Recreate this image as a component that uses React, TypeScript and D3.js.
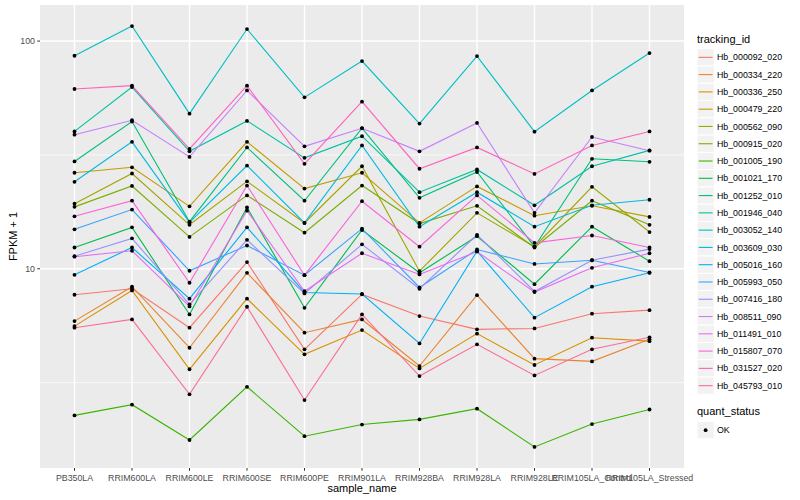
import * as d3 from "d3";

const samples = [
  "PB350LA", "RRIM600LA", "RRIM600LE", "RRIM600SE", "RRIM600PE", "RRIM901LA",
  "RRIM928BA", "RRIM928LA", "RRIM928LE", "RRIM105LA_Control", "RRIM105LA_Stressed",
];

const trackingIds = [
  "Hb_000092_020", "Hb_000334_220", "Hb_000336_250", "Hb_000479_220", "Hb_000562_090",
  "Hb_000915_020", "Hb_001005_190", "Hb_001021_170", "Hb_001252_010", "Hb_001946_040",
  "Hb_003052_140", "Hb_003609_030", "Hb_005016_160", "Hb_005993_050", "Hb_007416_180",
  "Hb_008511_090", "Hb_011491_010", "Hb_015807_070", "Hb_031527_020", "Hb_045793_010",
];

// FPKM + 1 per sample
const hb000092 = [7.69, 8.17, 5.51, 10.7, 4.43, 7.72, 6.2, 5.42, 5.47, 6.35, 6.58];
const hb000334 = [5.89, 8.34, 4.5, 9.6, 5.24, 5.99, 3.74, 7.66, 4.03, 3.92, 4.9];
const hb000336 = [5.6, 8.03, 3.62, 7.39, 4.21, 5.38, 3.65, 5.19, 3.78, 4.98, 4.81];
const hb000479 = [26.4, 27.9, 18.8, 36.1, 22.5, 26.4, 15.9, 23.0, 17.1, 18.9, 16.9];
const hb000562 = [19.3, 26.2, 15.6, 24.2, 15.9, 28.2, 9.76, 17.6, 12.5, 22.9, 14.5];
const hb000915 = [18.7, 23.1, 13.8, 21.0, 14.4, 23.2, 15.8, 18.9, 12.4, 19.9, 15.6];
const hb001005 = [2.27, 2.53, 1.77, 3.03, 1.84, 2.07, 2.18, 2.43, 1.65, 2.08, 2.41];
const hb001021 = [12.4, 15.2, 6.3, 18.6, 6.74, 14.8, 9.6, 13.9, 8.56, 15.3, 10.8];
const hb001252 = [29.6, 44.3, 16.1, 34.1, 19.9, 41.5, 20.5, 26.6, 12.5, 30.4, 29.5];
const hb001946 = [40.1, 62.8, 32.8, 44.6, 30.7, 38.2, 21.7, 27.3, 19.0, 28.2, 33.1];
const hb003052 = [86.2, 116.4, 48.0, 112.9, 56.6, 81.7, 43.4, 85.9, 40.0, 60.7, 88.6];
const hb003609 = [24.1, 36.1, 16.0, 28.4, 15.9, 34.8, 15.3, 21.7, 15.3, 19.0, 20.1];
const hb005016 = [9.41, 12.4, 7.39, 15.2, 7.87, 7.75, 4.7, 11.95, 6.1, 8.34, 9.6];
const hb005993 = [14.9, 18.2, 9.8, 12.65, 9.37, 15.0, 8.28, 12.15, 10.5, 10.9, 9.63];
const hb007416 = [11.36, 13.6, 6.97, 13.4, 7.79, 12.8, 8.17, 14.1, 7.95, 10.9, 12.2];
const hb008511 = [38.8, 44.9, 31.0, 60.7, 34.5, 41.4, 32.8, 43.7, 17.6, 37.9, 33.0];
const hb011491 = [11.3, 12.0, 6.83, 18.0, 7.97, 11.7, 9.44, 11.9, 7.9, 10.1, 11.7];
const hb015807 = [17.0, 19.9, 8.68, 23.2, 9.37, 19.8, 12.5, 21.0, 13.0, 14.0, 12.4];
const hb031527 = [61.6, 63.7, 33.6, 63.7, 28.9, 54.2, 27.5, 34.1, 26.1, 34.8, 40.1];
const hb045793 = [5.51, 5.99, 2.81, 6.81, 2.65, 6.3, 3.38, 4.66, 3.4, 4.43, 5.0];

const seriesValues = [
  hb000092, hb000334, hb000336, hb000479, hb000562, hb000915, hb001005, hb001021, hb001252, hb001946,
  hb003052, hb003609, hb005016, hb005993, hb007416, hb008511, hb011491, hb015807, hb031527, hb045793,
];

const yBreaks = [10, 100];
const statusLevels = ["OK"];

// ggplot2 hue palette, 20 levels
const colors = [
  "#F8766D", "#EA8331", "#D89000", "#C09B00", "#A3A500", "#7CAE00", "#39B600", "#00BB4E",
  "#00BF7D", "#00C1A3", "#00BFC4", "#00BAE0", "#00B0F6", "#35A2FF", "#9590FF", "#C77CFF",
  "#E76BF3", "#FA62DB", "#FF62BC", "#FF6C91",
];

const font = "'Liberation Sans', Arial, Helvetica, sans-serif";

const App = () => {
  const width = 800;
  const height = 500;
  const panel = { left: 40, right: 684, top: 5, bottom: 468 };

  const all = seriesValues.flat();
  const [lo, hi] = d3.extent(all) as [number, number];
  const lLo = Math.log10(lo);
  const lHi = Math.log10(hi);
  const pad = (lHi - lLo) * 0.05;

  const x = d3.scalePoint<string>()
    .domain(samples)
    .range([panel.left, panel.right])
    .padding(0.6);

  const y = d3.scaleLog()
    .domain([10 ** (lLo - pad), 10 ** (lHi + pad)])
    .range([panel.bottom, panel.top]);

  const [dMin, dMax] = y.domain();
  const majors = [1, 10, 100, 1000];
  const minorBreaks = d3.pairs(majors)
    .map(([a, b]) => Math.sqrt(a * b))
    .filter(v => v >= dMin && v <= dMax);

  const line = d3.line<number>()
    .x((_, i) => x(samples[i]) as number)
    .y(d => y(d));

  const keyH = 17.28;
  const legX = 697;
  const legTop = 48.7;

  return (
    <svg width={width} height={height}
      style={{ position: "absolute", left: 0, top: 0, background: "#fff" }}
      fontFamily={font}>
      <rect x={panel.left} y={panel.top} width={panel.right - panel.left}
        height={panel.bottom - panel.top} fill="#EBEBEB" />

      {/* grid */}
      {minorBreaks.map(v => (
        <line key={"mn" + v} x1={panel.left} x2={panel.right} y1={y(v)} y2={y(v)}
          stroke="#fff" strokeWidth={0.7} />
      ))}
      {yBreaks.map(v => (
        <line key={"mj" + v} x1={panel.left} x2={panel.right} y1={y(v)} y2={y(v)}
          stroke="#fff" strokeWidth={1.4} />
      ))}
      {samples.map(s => (
        <line key={"vx" + s} x1={x(s)} x2={x(s)} y1={panel.top} y2={panel.bottom}
          stroke="#fff" strokeWidth={1.4} />
      ))}

      {/* lines */}
      {seriesValues.map((vals, i) => (
        <path key={trackingIds[i]} d={line(vals) ?? ""} fill="none"
          stroke={colors[i]} strokeWidth={1.1} />
      ))}
      {/* points */}
      {seriesValues.map((vals, i) =>
        vals.map((v, j) => (
          <circle key={trackingIds[i] + j} cx={x(samples[j])} cy={y(v)} r={1.9} fill="#000" />
        ))
      )}

      {/* y axis */}
      {yBreaks.map(v => (
        <g key={"yt" + v}>
          <line x1={panel.left - 2.75} x2={panel.left} y1={y(v)} y2={y(v)} stroke="#333" strokeWidth={1} />
          <text x={panel.left - 5} y={y(v) + 3.1} textAnchor="end" fontSize={8.8} fill="#4D4D4D">
            {d3.format("d")(v)}
          </text>
        </g>
      ))}
      {/* x axis */}
      {samples.map(s => (
        <g key={"xt" + s}>
          <line x1={x(s)} x2={x(s)} y1={panel.bottom} y2={panel.bottom + 2.75} stroke="#333" strokeWidth={1} />
          <text x={x(s)} y={panel.bottom + 12.8} textAnchor="middle" fontSize={8.8} fill="#4D4D4D">
            {s}
          </text>
        </g>
      ))}

      <text x={(panel.left + panel.right) / 2} y={492} textAnchor="middle" fontSize={11} fill="#000">
        sample_name
      </text>
      <text transform={`translate(16.5, ${(panel.top + panel.bottom) / 2}) rotate(-90)`}
        textAnchor="middle" fontSize={11} fill="#000">
        FPKM + 1
      </text>

      {/* legend: tracking_id */}
      <text x={legX} y={43} fontSize={11} fill="#000">tracking_id</text>
      {trackingIds.map((id, i) => {
        const ky = legTop + i * keyH;
        return (
          <g key={"lg" + id}>
            <rect x={legX} y={ky} width={keyH} height={keyH} fill="#F2F2F2" stroke="#fff" strokeWidth={1} />
            <line x1={legX + 1.7} x2={legX + keyH - 1.7} y1={ky + keyH / 2} y2={ky + keyH / 2}
              stroke={colors[i]} strokeWidth={1.1} />
            <text x={legX + keyH + 2.7} y={ky + keyH / 2 + 3.1} fontSize={8.8} fill="#000">{id}</text>
          </g>
        );
      })}

      {/* legend: quant_status */}
      <text x={legX} y={415} fontSize={11} fill="#000">quant_status</text>
      {statusLevels.map((s, i) => {
        const ky = 421.5 + i * keyH;
        return (
          <g key={"qs" + s}>
            <rect x={legX} y={ky} width={keyH} height={keyH} fill="#F2F2F2" stroke="#fff" strokeWidth={1} />
            <circle cx={legX + keyH / 2} cy={ky + keyH / 2} r={1.9} fill="#000" />
            <text x={legX + keyH + 2.7} y={ky + keyH / 2 + 3.1} fontSize={8.8} fill="#000">{s}</text>
          </g>
        );
      })}
    </svg>
  );
};

export default App;
